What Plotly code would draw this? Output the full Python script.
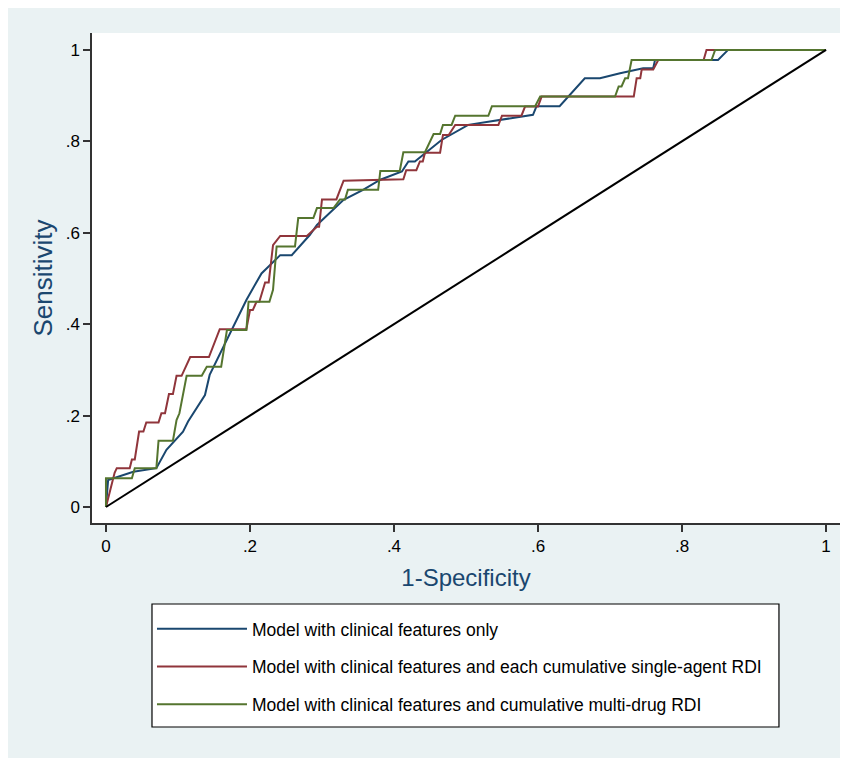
import plotly.graph_objects as go

# Model with clinical features only
fpr_clin = [0, .003, .038, .07, .084, .107, .114, .1375, .144, .163, .195, .216, .242, .258,
            .283, .293, .33, .357, .381, .411, .42, .429, .466, .503, .547, .593, .598, .63,
            .665, .686, .714, .746, .76, .7625, .85, .864, 1]
tpr_clin = [0, .059, .077, .085, .125, .165, .187, .245, .289, .351, .453, .511, .551, .551,
            .595, .617, .672, .694, .716, .734, .756, .756, .803, .836, .847, .858, .877, .877,
            .938, .938, .949, .96, .96, .978, .978, 1, 1]

# Model with clinical features and each cumulative single-agent RDI
fpr_single = [0, .012, .015, .033, .036, .040, .046, .052, .056, .073, .077, .082, .0875, .093,
              .098, .105, .117, .143, .158, .195, .2, .204, .209, .213, .221, .226, .232, .242,
              .279, .293, .296, .3, .32, .33, .413, .417, .431, .436, .440, .443, .464, .468,
              .476, .485, .545, .55, .577, .582, .6, .605, .733, .737, .742, .744, .76, .767,
              .83, .834, 1]
tpr_single = [0, .075, .085, .085, .104, .104, .165, .165, .185, .185, .205, .205, .247, .247,
              .287, .287, .328, .328, .389, .389, .431, .431, .449, .449, .491, .491, .573, .593,
              .593, .613, .613, .673, .673, .714, .717, .737, .737, .756, .756, .775, .775, .814,
              .814, .836, .836, .856, .856, .876, .876, .898, .898, .938, .938, .957, .957, .978,
              .978, 1, 1]

# Model with clinical features and cumulative multi-drug RDI
fpr_multi = [0, 0, .036, .04, .07, .073, .093, .098, .102, .11, .112, .133, .14, .16, .168, .195,
             .198, .227, .232, .237, .2625, .267, .288, .293, .316, .325, .332, .336, .378, .381,
             .408, .413, .443, .455, .464, .468, .48, .485, .531, .536, .596, .603, .707, .712,
             .716, .721, .725, .73, .841, .846, 1]
tpr_multi = [0, .063, .063, .085, .085, .145, .145, .19, .205, .278, .287, .287, .307, .307, .387,
             .387, .449, .449, .475, .57, .57, .632, .632, .654, .654, .673, .673, .694, .694, .735,
             .735, .776, .776, .816, .816, .836, .836, .856, .856, .877, .877, .898, .898, .92,
             .92, .938, .938, .978, .978, 1, 1]

ref_x = [0, 1]
ref_y = [0, 1]

tick_vals = [0, .2, .4, .6, .8, 1]
tick_text = ["0", ".2", ".4", ".6", ".8", "1"]

names = ["Model with clinical features only",
         "Model with clinical features and each cumulative single-agent RDI",
         "Model with clinical features and cumulative multi-drug RDI"]
colors = ["#1a476f", "#90353b", "#55752f"]

fig = go.Figure()
for i, (xs, ys) in enumerate([(fpr_clin, tpr_clin), (fpr_single, tpr_single), (fpr_multi, tpr_multi)]):
    fig.add_trace(go.Scatter(x=xs, y=ys, mode="lines", name=names[i],
                             line=dict(color=colors[i], width=2), legendgroup=f"g{i}"))
fig.add_trace(go.Scatter(x=ref_x, y=ref_y, mode="lines", showlegend=False,
                         line=dict(color="black", width=2)))

axis_common = dict(showgrid=False, zeroline=False, showline=True, linecolor="#333333",
                   linewidth=1.5, ticks="outside", ticklen=7, tickwidth=1.5, tickcolor="#333333",
                   tickvals=tick_vals, ticktext=tick_text,
                   tickfont=dict(family="Liberation Sans, Arial", size=17, color="black"))

fig.update_layout(
    width=840, height=750,
    margin=dict(l=84, r=8, t=25, b=235),
    paper_bgcolor="#EAF2F3", plot_bgcolor="white",
    font=dict(family="Liberation Sans, Arial"),
    xaxis=dict(range=[-0.0194, 1.0194], **axis_common,
               title=dict(text="1-Specificity", font=dict(size=24, color="#1a476f"), standoff=14)),
    yaxis=dict(range=[-0.035, 1.037], **axis_common, tickangle=0,
               title=dict(text="Sensitivity", font=dict(size=26, color="#1a476f"), standoff=6)),
    legend=dict(x=0.0802, y=-0.1793, xanchor="left", yanchor="top", bgcolor="rgba(0,0,0,0)",
                borderwidth=0, itemwidth=90, tracegroupgap=12,
                font=dict(size=17.5, color="black")),
    shapes=[dict(type="rect", xref="paper", yref="paper", x0=0.0802, x1=0.9184,
                 y0=-0.4163, y1=-0.1653, fillcolor="white",
                 line=dict(color="black", width=1.2), layer="below")],
)
fig.write_html("out.html")
